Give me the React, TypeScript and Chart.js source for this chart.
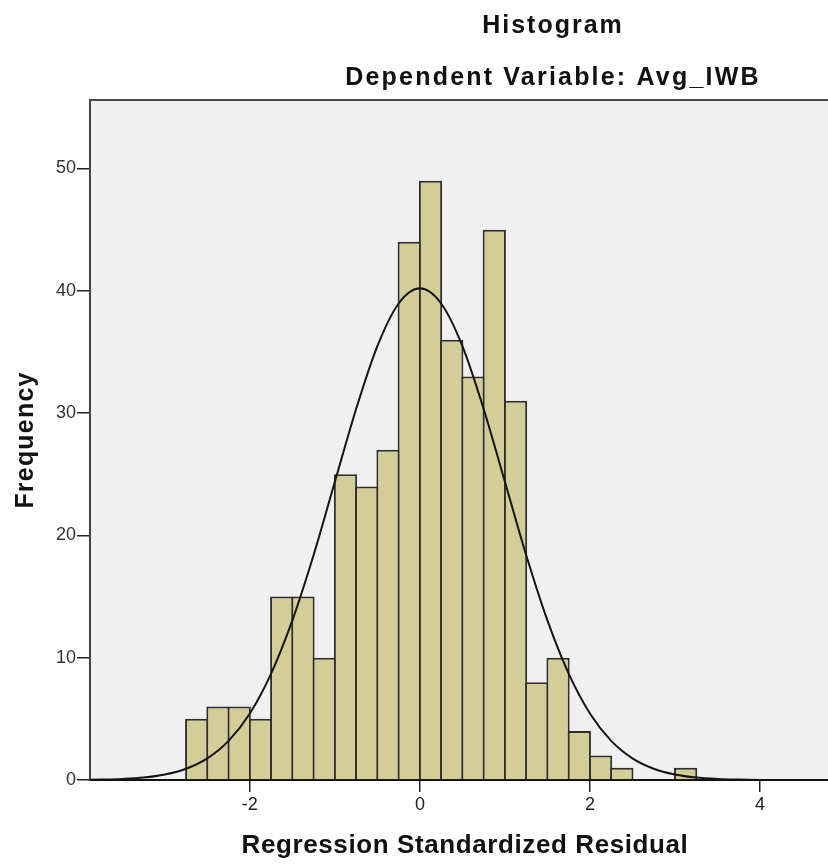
import React, { useEffect, useRef } from "react";
import { Chart, registerables } from "chart.js";

Chart.register(...registerables);

// ---- data ----
const titleText = "Histogram";
const subtitleText = "Dependent Variable: Avg_IWB";
const xAxisTitle = "Regression Standardized Residual";
const yAxisTitle = "Frequency";

const binStarts = [
  -2.75, -2.5, -2.25, -2.0, -1.75, -1.5, -1.25, -1.0, -0.75, -0.5, -0.25, 0.0,
  0.25, 0.5, 0.75, 1.0, 1.25, 1.5, 1.75, 2.0, 2.25, 2.5, 2.75, 3.0,
];
const binWidth = 0.25;
const frequencies = [
  5, 6, 6, 5, 15, 15, 10, 25, 24, 27, 44, 49, 36, 33, 45, 31, 8, 10, 4, 2, 1, 0, 0, 1,
];

const curveX = [
  -4.0, -3.75, -3.5, -3.25, -3.0, -2.75, -2.5, -2.25, -2.0, -1.75, -1.5, -1.25, -1.0,
  -0.75, -0.5, -0.25, 0.0, 0.25, 0.5, 0.75, 1.0, 1.25, 1.5, 1.75, 2.0, 2.25, 2.5,
  2.75, 3.0, 3.25, 3.5, 3.75, 4.0, 4.25, 4.5, 4.75, 5.0,
];
const curveY = [
  0.01, 0.04, 0.09, 0.2, 0.45, 0.92, 1.77, 3.2, 5.44, 8.7, 13.05, 18.4, 24.38,
  30.34, 35.48, 38.96, 40.2, 38.96, 35.48, 30.34, 24.38, 18.4, 13.05, 8.7, 5.44,
  3.2, 1.77, 0.92, 0.45, 0.2, 0.09, 0.04, 0.01, 0.0, 0.0, 0.0, 0.0,
];

const xTicks = [-2, 0, 2, 4];
const yTicks = [0, 10, 20, 30, 40, 50];
const xMin = -3.88;
const xMax = 4.8;
const yMin = 0;
const yMax = 55.6;

const FONT = '"Liberation Sans", Arial, sans-serif';

export default function App() {
  const ref = useRef<HTMLCanvasElement | null>(null);

  useEffect(() => {
    if (!ref.current) return;

    const bgPlugin = {
      id: "bgFrame",
      beforeDraw(chart: any) {
        const { ctx, chartArea } = chart;
        ctx.save();
        ctx.fillStyle = "#f0f0f0";
        ctx.fillRect(chartArea.left, chartArea.top, chartArea.right - chartArea.left, chartArea.bottom - chartArea.top);
        ctx.restore();
      },
      afterDraw(chart: any) {
        const { ctx, chartArea } = chart;
        ctx.save();
        ctx.strokeStyle = "#4a4a4a";
        ctx.lineWidth = 2;
        ctx.beginPath();
        ctx.moveTo(chartArea.left - 1, chartArea.top);
        ctx.lineTo(chartArea.right, chartArea.top);
        ctx.stroke();

        ctx.fillStyle = "#111";
        ctx.textAlign = "center";
        ctx.textBaseline = "alphabetic";
        ctx.font = `bold 25px ${FONT}`;
        (ctx as any).letterSpacing = "2px";
        ctx.fillText(titleText, 553, 33);
        (ctx as any).letterSpacing = "2.2px";
        ctx.fillText(subtitleText, 553, 85);

        // x axis title
        ctx.font = `bold 26px ${FONT}`;
        (ctx as any).letterSpacing = "0.6px";
        ctx.fillText(xAxisTitle, 465, 853);

        // y axis title
        ctx.save();
        ctx.translate(33, 440);
        ctx.rotate(-Math.PI / 2);
        ctx.font = `bold 25px ${FONT}`;
        (ctx as any).letterSpacing = "1.2px";
        ctx.fillText(yAxisTitle, 0, 0);
        ctx.restore();

        ctx.restore();
      },
    };

    const barData = binStarts.map((s, i) => ({ x: s + binWidth / 2, y: frequencies[i] }));
    const lineData = curveX.map((x, i) => ({ x, y: curveY[i] }));

    const chart = new Chart(ref.current, {
      type: "bar",
      data: {
        datasets: [
          {
            type: "line",
            data: lineData,
            borderColor: "#141414",
            borderWidth: 2,
            pointRadius: 0,
            fill: false,
            cubicInterpolationMode: "monotone",
            order: 0,
          } as any,
          {
            type: "bar",
            data: barData,
            backgroundColor: "#d3ce97",
            borderColor: "#2e2e2a",
            borderWidth: 2,
            borderSkipped: "bottom",
            barPercentage: 1.094,
            categoryPercentage: 1,
            grouped: false,
            order: 1,
          } as any,
        ],
      },
      options: {
        animation: false,
        responsive: true,
        maintainAspectRatio: false,
        layout: { padding: { top: 100, left: 0, right: 0, bottom: 0 } },
        plugins: {
          legend: { display: false },
          tooltip: { enabled: false },
          title: { display: false },
        },
        scales: {
          x: {
            type: "linear",
            min: xMin,
            max: xMax,
            offset: false,
            grid: { display: true, drawOnChartArea: false, drawTicks: true, tickLength: 12, color: "#222", lineWidth: 1.5, offset: false },
            border: { display: true, color: "#111", width: 2 },
            afterBuildTicks(scale: any) {
              scale.ticks = xTicks.map((v) => ({ value: v }));
            },
            afterFit(scale: any) {
              scale.height = 84;
            },
            ticks: {
              color: "#222",
              font: { family: FONT, size: 18 },
              padding: 2,
              maxRotation: 0,
              autoSkip: false,
              callback: (v: any) => String(v),
            },
            title: { display: false },
          },
          y: {
            type: "linear",
            min: yMin,
            max: yMax,
            grid: { display: true, drawOnChartArea: false, drawTicks: true, tickLength: 13, color: "#222", lineWidth: 1.5 },
            border: { display: true, color: "#444", width: 2 },
            afterBuildTicks(scale: any) {
              scale.ticks = yTicks.map((v) => ({ value: v }));
            },
            afterFit(scale: any) {
              scale.width = 90;
            },
            ticks: {
              color: "#333",
              font: { family: FONT, size: 18 },
              padding: 1,
              autoSkip: false,
              callback: (v: any) => String(v),
            },
            title: { display: false },
          },
        },
      },
      plugins: [bgPlugin],
    });

    return () => chart.destroy();
  }, []);

  return (
    <div style={{ position: "absolute", left: 0, top: 0, width: 828, height: 864, background: "#fff" }}>
      <canvas ref={ref} />
    </div>
  );
}
